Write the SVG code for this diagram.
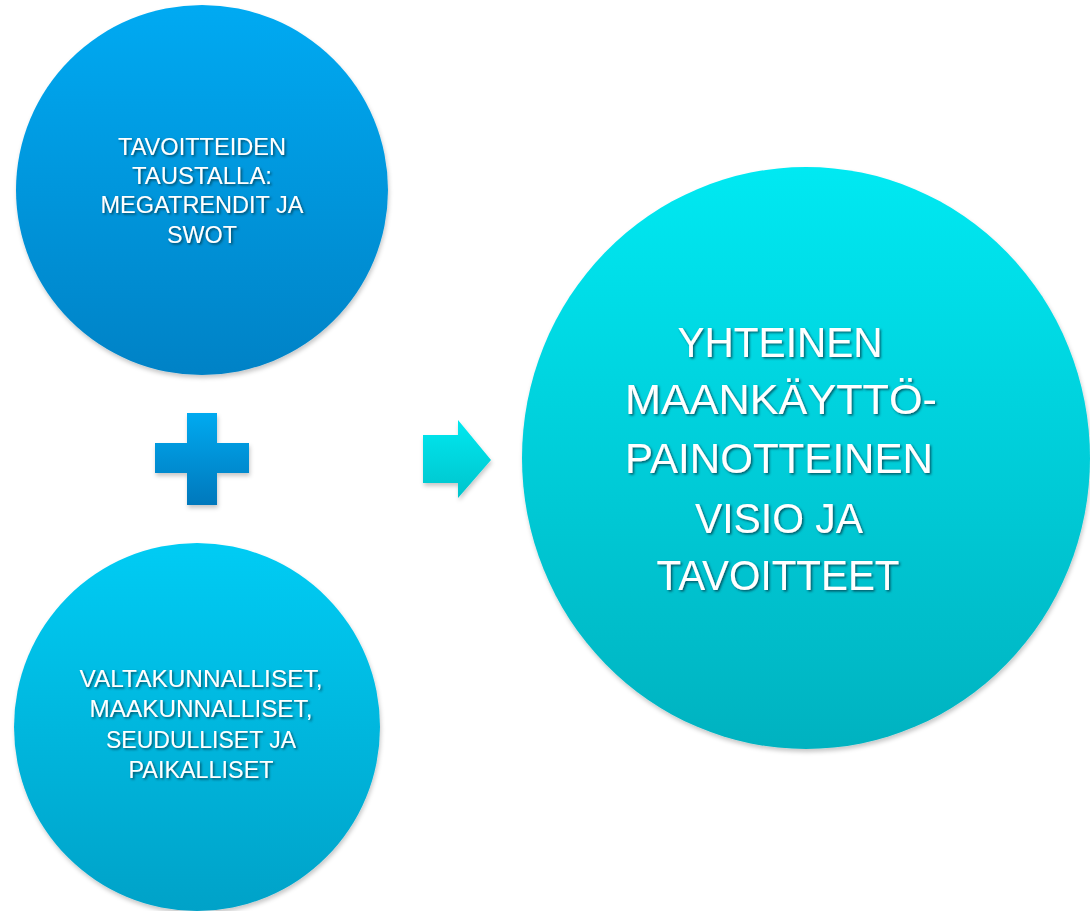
<svg xmlns="http://www.w3.org/2000/svg" width="1090" height="911" viewBox="0 0 1090 911">
  <defs>
    <linearGradient id="g1" x1="0" y1="0" x2="0" y2="1">
      <stop offset="0" stop-color="#00aaf2"/>
      <stop offset="1" stop-color="#0082c6"/>
    </linearGradient>
    <linearGradient id="g2" x1="0" y1="0" x2="0" y2="1">
      <stop offset="0" stop-color="#00ccf4"/>
      <stop offset="1" stop-color="#00a2c8"/>
    </linearGradient>
    <linearGradient id="g3" x1="0" y1="0" x2="0" y2="1">
      <stop offset="0" stop-color="#00e9f2"/>
      <stop offset="1" stop-color="#00b2c0"/>
    </linearGradient>
    <linearGradient id="gplus" x1="0" y1="0" x2="0" y2="1">
      <stop offset="0" stop-color="#00aaf0"/>
      <stop offset="1" stop-color="#0078bc"/>
    </linearGradient>
    <linearGradient id="garrow" x1="0" y1="0" x2="0" y2="1">
      <stop offset="0" stop-color="#00e8f0"/>
      <stop offset="1" stop-color="#00c4cc"/>
    </linearGradient>
    <filter id="shapeShadow" x="-10%" y="-10%" width="120%" height="125%">
      <feDropShadow dx="1" dy="3" stdDeviation="2" flood-color="#000" flood-opacity="0.22"/>
    </filter>
    <filter id="textShadow" x="-5%" y="-20%" width="115%" height="150%">
      <feDropShadow dx="1.5" dy="1.5" stdDeviation="1" flood-color="#003040" flood-opacity="0.75"/>
    </filter>
  </defs>
  <style>
    .lbl { font-family: "Liberation Sans", Arial, sans-serif; fill: #ffffff; text-anchor: middle; filter: url(#textShadow); }
    .small { font-size: 23px; }
    .big { font-size: 43px; }
  </style>
  <rect width="1090" height="911" fill="#ffffff"/>

  <g id="node-background">
    <ellipse cx="202" cy="190" rx="186" ry="185" fill="url(#g1)" filter="url(#shapeShadow)"/>
    <text class="lbl small" x="202" y="155" textLength="168" lengthAdjust="spacingAndGlyphs">TAVOITTEIDEN</text>
    <text class="lbl small" x="202" y="184" textLength="140" lengthAdjust="spacingAndGlyphs">TAUSTALLA:</text>
    <text class="lbl small" x="202" y="213" textLength="203" lengthAdjust="spacingAndGlyphs">MEGATRENDIT JA</text>
    <text class="lbl small" x="202" y="243" textLength="70" lengthAdjust="spacingAndGlyphs">SWOT</text>
  </g>

  <g id="node-levels">
    <ellipse cx="197" cy="727" rx="183" ry="184" fill="url(#g2)" filter="url(#shapeShadow)"/>
    <text class="lbl small" x="201" y="687" textLength="243" lengthAdjust="spacingAndGlyphs">VALTAKUNNALLISET,</text>
    <text class="lbl small" x="201" y="717" textLength="223" lengthAdjust="spacingAndGlyphs">MAAKUNNALLISET,</text>
    <text class="lbl small" x="201" y="748" textLength="190" lengthAdjust="spacingAndGlyphs">SEUDULLISET JA</text>
    <text class="lbl small" x="201" y="778" textLength="145" lengthAdjust="spacingAndGlyphs">PAIKALLISET</text>
  </g>

  <g id="node-plus">
    <path d="M187,413 H217 V443 H249 V473 H217 V505 H187 V473 H155 V443 H187 Z" fill="url(#gplus)" filter="url(#shapeShadow)"/>
  </g>

  <g id="node-result">
    <ellipse cx="806" cy="458" rx="284" ry="291" fill="url(#g3)" filter="url(#shapeShadow)"/>
    <text class="lbl big" x="780" y="357" textLength="205" lengthAdjust="spacingAndGlyphs">YHTEINEN</text>
    <text class="lbl big" x="781" y="414" textLength="312" lengthAdjust="spacingAndGlyphs">MAANKÄYTTÖ-</text>
    <text class="lbl big" x="779" y="473" textLength="308" lengthAdjust="spacingAndGlyphs">PAINOTTEINEN</text>
    <text class="lbl big" x="779" y="533" textLength="168" lengthAdjust="spacingAndGlyphs">VISIO JA</text>
    <text class="lbl big" x="778" y="590" textLength="243" lengthAdjust="spacingAndGlyphs">TAVOITTEET</text>
  </g>

  <g id="connectors">
    <path d="M423,435 H458 V420 L491,460 L458,498 V483 H423 Z" fill="url(#garrow)" filter="url(#shapeShadow)"/>
  </g>
</svg>
